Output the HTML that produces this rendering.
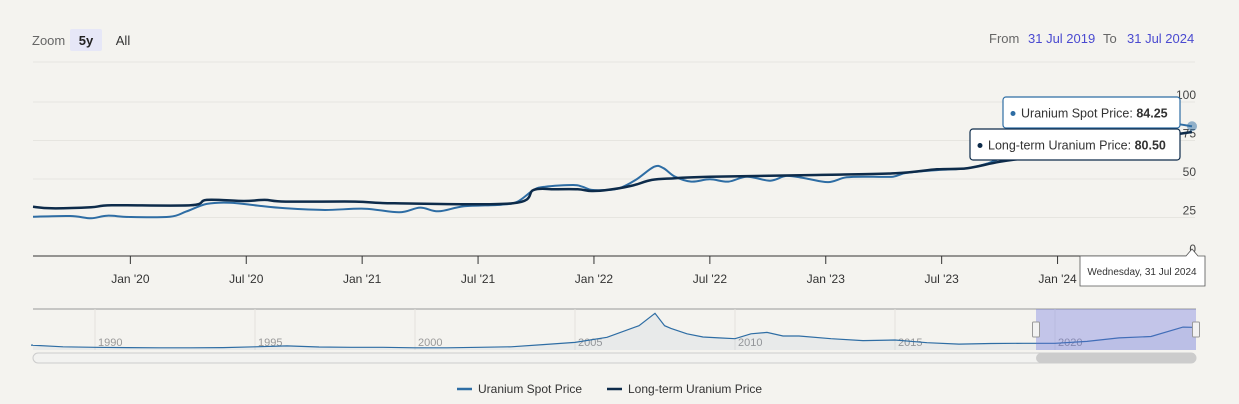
<!DOCTYPE html>
<html><head><meta charset="utf-8"><style>
body{margin:0;background:#f4f3ef;font-family:"Liberation Sans",sans-serif;}
svg{display:block}
</style></head><body>
<svg id="c" width="1239" height="404" viewBox="0 0 1239 404">
<rect x="0" y="0" width="1239" height="404" fill="#f4f3ef"/>
<text x="32" y="45" font-size="13" fill="#666">Zoom</text>
<rect x="70" y="29" width="32" height="22" rx="2" fill="#e6e7f7"/>
<text x="86" y="45" font-size="13" font-weight="bold" fill="#222" text-anchor="middle">5y</text>
<text x="123" y="45" font-size="13" fill="#333" text-anchor="middle">All</text>
<text x="989" y="43" font-size="13" fill="#666">From</text>
<text x="1028" y="43" font-size="13" fill="#4a4ad0">31 Jul 2019</text>
<text x="1103" y="43" font-size="13" fill="#666">To</text>
<text x="1127" y="43" font-size="13" fill="#4a4ad0">31 Jul 2024</text>
<g id="grid"></g><g id="series"></g><g id="nav"></g>
</svg>
<script>
const yTicks=[0,25,50,75,100];
const xTickLabels=["Jan '20","Jul '20","Jan '21","Jul '21","Jan '22","Jul '22","Jan '23","Jul '23","Jan '24"];
const xTickTimes=[2020,2020.5,2021,2021.5,2022,2022.5,2023,2023.5,2024];
const spotT=[2019.58,2019.74,2019.83,2019.90,2020.0,2020.17,2020.24,2020.33,2020.43,2020.55,2020.67,2020.84,2021.01,2021.16,2021.25,2021.33,2021.44,2021.60,2021.67,2021.74,2021.79,2021.91,2021.95,2021.99,2022.06,2022.11,2022.18,2022.26,2022.30,2022.35,2022.42,2022.50,2022.58,2022.66,2022.76,2022.83,2022.91,2023.01,2023.09,2023.20,2023.29,2023.35,2023.48,2023.61,2023.70,2023.76,2023.92,2024.10,2024.27,2024.40,2024.49,2024.58];
const spotV=[25.5,26,24.5,26.2,25.3,25.5,28.8,33.8,34.6,32.7,31,29.9,30.7,28.4,31.4,29,32.3,33.3,35.3,42.9,45,46.1,45,42.9,42.9,44,49.4,58,57,51.5,48.3,49.8,48.3,51.5,48.9,52,50.5,48,51.1,51.5,51.5,54,55.8,57,60.2,63.4,67.5,74,80,84.5,86,84.25];
const ltT=[2019.58,2019.66,2019.83,2019.92,2020.26,2020.33,2020.49,2020.58,2020.67,2020.97,2021.14,2021.65,2021.74,2021.83,2021.93,2021.99,2022.06,2022.16,2022.25,2022.35,2022.50,2022.96,2023.30,2023.48,2023.61,2023.75,2023.92,2024.18,2024.40,2024.58];
const ltV=[32,31,31.6,32.9,32.9,36.4,35.7,36.4,35.3,35.3,34.2,34.2,42.9,43.3,43.3,42.2,42.9,45.5,49.4,50.5,51.5,52.6,53.7,56.3,57,61.2,65,72,76.6,80.5];
const navT=[1988,1989,1990,1991,1992,1993,1994,1995,1996,1997,1998,1999,2000,2001,2002,2003,2004,2005,2006,2007,2007.5,2007.8,2008,2008.5,2009,2009.5,2010,2010.5,2011,2011.5,2012,2013,2014,2015,2016,2017,2018,2019,2020,2021,2022,2023,2024,2024.3];
const navV=[18,12,10,9,8,8,9,12,15,11,10,10,8,8,10,12,20,28,47,90,136,90,80,60,48,45,42,60,65,52,52,42,35,37,27,22,24,25,25,32,45,50,85,84];
const navYears=[1990,1995,2000,2005,2010,2015,2020];

const NS="http://www.w3.org/2000/svg";
const X0=33,X1=1192,T0=2019.58,T1=2024.58;
const x=t=>X0+(t-T0)/(T1-T0)*(X1-X0);
const y=v=>256-v*1.54;
const nx=t=>95+(t-1990)*32;
const ny=v=>350-v*0.27;
function mk(tag,attrs,parent){const e=document.createElementNS(NS,tag);for(const k in attrs)e.setAttribute(k,attrs[k]);parent.appendChild(e);return e;}
function smooth(pts){let d="M"+pts[0][0]+","+pts[0][1];for(let i=0;i<pts.length-1;i++){const p0=pts[i-1]||pts[i],p1=pts[i],p2=pts[i+1],p3=pts[i+2]||p2;const c1x=p1[0]+(p2[0]-p0[0])/6,c1y=p1[1]+(p2[1]-p0[1])/6,c2x=p2[0]-(p3[0]-p1[0])/6,c2y=p2[1]-(p3[1]-p1[1])/6;d+=" C"+c1x.toFixed(1)+","+c1y.toFixed(1)+" "+c2x.toFixed(1)+","+c2y.toFixed(1)+" "+p2[0].toFixed(1)+","+p2[1].toFixed(1);}return d;}
const g=document.getElementById('grid'),s=document.getElementById('series'),n=document.getElementById('nav');
let e=mk('line',{x1:33,x2:1195,y1:62,y2:62,stroke:'#e6e5e0'},g);


yTicks.forEach(v=>{
 if(v>0){const l=mk('line',{x1:33,x2:1195,y1:y(v),y2:y(v),stroke:'#e6e5e0'},g);
 
 }
 const t=mk('text',{x:1196,y:y(v)-3,'font-size':12,fill:'#444','text-anchor':'end'},g);t.textContent=v;
 
 
});
e=mk('line',{x1:33,x2:1195,y1:256,y2:256,stroke:'#333','stroke-width':1},g);


xTickTimes.forEach((tt,i)=>{
 const l=mk('line',{x1:x(tt),x2:x(tt),y1:256,y2:264,stroke:'#333'},g);
 
 
 const t=mk('text',{x:x(tt),y:283,'font-size':12,fill:'#333','text-anchor':'middle'},g);t.textContent=xTickLabels[i];
 
 
});
e=mk('path',{d:smooth(spotT.map((t,i)=>[x(t),y(spotV[i])])),fill:'none',stroke:'#2e6da4','stroke-width':2},s);


e=mk('path',{d:smooth(ltT.map((t,i)=>[x(t),y(ltV[i])])),fill:'none',stroke:'#0d2b4a','stroke-width':2.5},s);


e=mk('circle',{cx:x(spotT[spotT.length-1]),cy:y(spotV[spotV.length-1]),r:5,fill:'#2e6da4','fill-opacity':0.5},s);


// tooltips
function tip(x0,y0,w,h,label,val,col,name){const gg=mk('g',{},s);
 
 
 mk('rect',{x:x0,y:y0,width:w,height:h,rx:3,fill:'#fff',stroke:col,'stroke-width':1.2},gg);
 mk('circle',{cx:x0+10,cy:y0+h/2+1,r:2.5,fill:col},gg);
 const t=mk('text',{x:x0+18,y:y0+h/2+5,'font-size':12.5,fill:'#333'},gg);t.innerHTML=label+': <tspan font-weight="bold">'+val+'</tspan>';}
tip(1003,97,177,31,'Uranium Spot Price','84.25','#2e6da4','spot-tooltip');
tip(970,129,210,31,'Long-term Uranium Price','80.50','#0d2b4a','long-term-tooltip');
const dg=mk('g',{},s);


mk('path',{d:'M1080,256 H1186 L1192,249 L1198,256 H1205 V286 H1080 Z',fill:'#fff',stroke:'#555','stroke-width':0.8},dg);
const dt=mk('text',{x:1142,y:275,'font-size':10,fill:'#333','text-anchor':'middle'},dg);dt.textContent='Wednesday, 31 Jul 2024';
// navigator
e=mk('line',{x1:33,x2:1196,y1:309,y2:309,stroke:'#999'},n);


navYears.forEach(yr=>{
 const l=mk('line',{x1:nx(yr),x2:nx(yr),y1:309,y2:350,stroke:'#e3e2dd'},n);
 
 
 const t=mk('text',{x:nx(yr)+3,y:346,'font-size':11,fill:'#999'},n);t.textContent=yr;
 
 
});
const np=navT.map((t,i)=>[nx(t),ny(navV[i])]);
e=mk('path',{d:'M33,'+np[0][1]+' L'+np.map(p=>p[0].toFixed(1)+','+p[1].toFixed(1)).join(' L')+' L1196,'+np[np.length-1][1]+' L1196,350 L33,350 Z',fill:'#2e6da4','fill-opacity':0.06,stroke:'none'},n);


e=mk('path',{d:'M33,'+np[0][1]+' L'+np.map(p=>p[0].toFixed(1)+','+p[1].toFixed(1)).join(' L')+' L1196,'+np[np.length-1][1],fill:'none',stroke:'#2e6da4','stroke-width':1.2},n);


e=mk('rect',{x:1036,y:309,width:160,height:41,fill:'#6670e0','fill-opacity':0.35},n);


[1036,1196].forEach(hx=>{const h=mk('rect',{x:hx-3.5,y:322,width:7,height:15,rx:1,fill:'#f2f2f2',stroke:'#999'},n);
 
 });
e=mk('rect',{x:33,y:353,width:1163,height:10,rx:5,fill:'#f2f2f0',stroke:'#ccc'},n);


e=mk('rect',{x:1036,y:353,width:160,height:10,rx:5,fill:'#cccccc'},n);


// legend
const lg=mk('g',{},n);


const l1=mk('g',{},lg);


mk('line',{x1:457,x2:472,y1:389,y2:389,stroke:'#2e6da4','stroke-width':2.5},l1);
let lt=mk('text',{x:478,y:393,'font-size':12,fill:'#333'},l1);lt.textContent='Uranium Spot Price';
const l2=mk('g',{},lg);


mk('line',{x1:607,x2:622,y1:389,y2:389,stroke:'#0d2b4a','stroke-width':2.5},l2);
lt=mk('text',{x:628,y:393,'font-size':12,fill:'#333'},l2);lt.textContent='Long-term Uranium Price';
</script>
</body></html>
